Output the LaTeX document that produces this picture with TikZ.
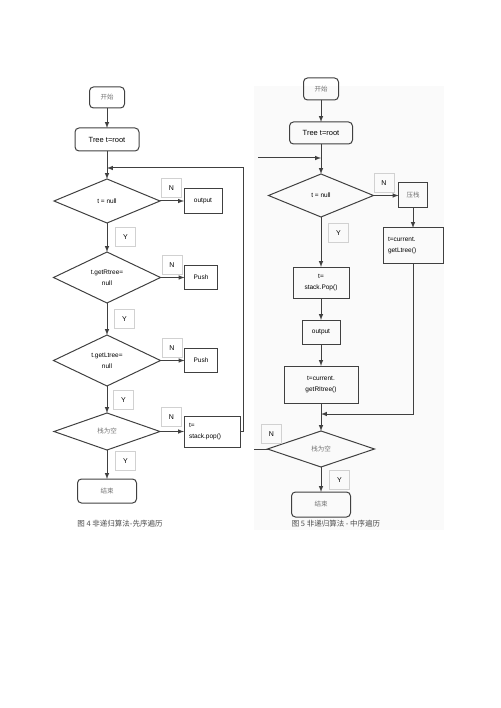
\documentclass[tikz,border=0pt]{standalone}
\usepackage{fontspec}
\setmainfont{Liberation Sans}
\newfontfamily\cjk{Noto Sans CJK SC}
\usetikzlibrary{positioning,shapes.geometric}
\definecolor{linegray}{gray}{0.25}
\tikzstyle{term} = [draw, rectangle, rounded corners=4pt, inner sep=2pt, outer sep=0pt]
\tikzstyle{block} = [draw, rectangle, inner sep=2pt, outer sep=0pt]
\tikzstyle{test} = [draw, diamond, aspect=2, inner sep=0pt, outer sep=0pt, align=center]
\tikzstyle{yn} = [draw=black!18, line width=0.7pt, rectangle, minimum width=20pt, minimum height=19pt, inner sep=0pt, font=\fontsize{7}{8}\selectfont]
\tikzstyle{cn} = [text=black!55, font=\cjk\fontsize{6.5}{8}\selectfont]

\begin{document}
\begin{tikzpicture}[x=1pt, y=-1pt, >=latex, line width=1pt, color=linegray, text=black,
		font=\fontsize{6.5}{8}\selectfont]
		\useasboundingbox (0,0) rectangle (500,708);
		\fill[black!2] (254,86) rectangle (444,530);

		% preorder: main column
		\node[term, cn, minimum width=35pt, minimum height=21pt] (startl) at (107,97.5) {开始};
		\node[term, minimum width=64pt, minimum height=23pt, below=20pt of startl, font=\fontsize{7.5}{9}\selectfont] (treel) {Tree t=root};
		\node[test, minimum width=106pt, minimum height=44pt, below=28pt of treel] (nulll) {t = null};
		\node[test, minimum width=107pt, minimum height=51pt, below=29pt of nulll] (rtreel) {t.getRtree=\\[3pt]null};
		\node[test, minimum width=107pt, minimum height=51pt, below=32pt of rtreel] (ltreel) {t.getLtree=\\[3pt]null};
		\node[test, cn, minimum width=106pt, minimum height=37pt, below=27pt of ltreel] (emptyl) {栈为空};
		\node[term, cn, minimum width=59pt, minimum height=24pt, below=29pt of emptyl] (endl) {结束};

		% preorder: side boxes
		\node[block, minimum width=38pt, minimum height=25pt, right=24pt of nulll] (outl) {output};
		\node[block, minimum width=33pt, minimum height=24pt, right=24pt of rtreel] (pushl1) {Push};
		\node[block, minimum width=33pt, minimum height=24pt, right=24pt of ltreel] (pushl2) {Push};
		\node[block, text width=46pt, align=left, inner sep=5pt, minimum height=31pt, right=24pt of emptyl] (popl) {t=\\[3pt]stack.pop()};

		% preorder: N / Y
		\node[yn, above right=3pt and 1pt of nulll.east] (nl1) {N};
		\node[yn, above right=3pt and 1pt of rtreel.east] (nl2) {N};
		\node[yn, above right=3pt and 1pt of ltreel.east] (nl3) {N};
		\node[yn, above right=5pt and 1pt of emptyl.east] (nl4) {N};
		\node[yn, below right=4pt and 8pt of nulll.south] (yl1) {Y};
		\node[yn, below right=6pt and 7pt of rtreel.south] (yl2) {Y};
		\node[yn, below right=4pt and 6pt of ltreel.south] (yl3) {Y};
		\node[yn, below right=1pt and 8pt of emptyl.south] (yl4) {Y};

		% preorder: joins
		\draw[->] (startl) -- (treel);
		\draw[->] (treel) -- (nulll);
		\draw[->] (nulll) -- (rtreel);
		\draw[->] (rtreel) -- (ltreel);
		\draw[->] (ltreel) -- (emptyl);
		\draw[->] (emptyl) -- (endl);
		\draw[->] (nulll) -- (outl);
		\draw[->] (rtreel) -- (pushl1);
		\draw[->] (ltreel) -- (pushl2);
		\draw[->] (emptyl) -- (popl);
		\node[coordinate, above=11pt of nulll.north] (loopl) {};
		\node[coordinate, right=3pt of popl.east] (popl0) {};
		\draw[->] (popl.east) -- (popl0) |- (loopl);

		% inorder: main column
		\node[term, cn, minimum width=35pt, minimum height=22pt] (startr) at (321,89) {开始};
		\node[term, minimum width=63pt, minimum height=22pt, below=22pt of startr, font=\fontsize{7.5}{9}\selectfont] (treer) {Tree t=root};
		\node[test, minimum width=105pt, minimum height=43pt, below=30pt of treer] (nullr) {t = null};
		\node[block, align=center, minimum width=56pt, minimum height=31pt, below=50pt of nullr] (popr) {t=\\[3pt]stack.Pop()};
		\node[block, minimum width=38pt, minimum height=24pt, below=22pt of popr] (outr) {output};
		\node[block, align=center, minimum width=74pt, minimum height=37pt, below=22pt of outr] (rtreer) {t=current.\\[3pt]getRItree()};
		\node[test, cn, minimum width=107pt, minimum height=36pt, below=28pt of rtreer] (emptyr) {栈为空};
		\node[term, cn, minimum width=59pt, minimum height=25pt, below=25pt of emptyr] (endr) {结束};

		% inorder: side column
		\node[block, cn, minimum width=29pt, minimum height=25pt, right=25pt of nullr] (pushr) {压栈};
		\node[block, text width=50pt, align=left, inner sep=5pt, minimum height=35pt, below=20pt of pushr] (ltreer) {t=current.\\[3pt]getLtree()};

		% inorder: N / Y
		\node[yn, above right=3pt and 0pt of nullr.east] (nr1) {N};
		\node[yn, above=5pt of emptyr.west, xshift=4pt] (nr2) {N};
		\node[yn, below right=6pt and 7pt of nullr.south] (yr1) {Y};
		\node[yn, below right=3pt and 8pt of emptyr.south] (yr2) {Y};

		% inorder: joins
		\draw[->] (startr) -- (treer);
		\draw[->] (treer) -- (nullr);
		\draw[->] (nullr) -- (popr);
		\draw[->] (popr) -- (outr);
		\draw[->] (outr) -- (rtreer);
		\draw[->] (rtreer) -- (emptyr);
		\draw[->] (emptyr) -- (endr);
		\draw[->] (nullr) -- (pushr);
		\draw[->] (pushr) -- (ltreer);
		\node[coordinate, above=17pt of emptyr.north] (joinr) {};
		\draw[->] (ltreer.south) |- (joinr);
		\node[coordinate, above=16pt of nullr.north] (entryr) {};
		\node[coordinate, left=63pt of entryr] (entryr0) {};
		\draw[->] (entryr0) -- (entryr);
		\node[coordinate, left=14pt of emptyr.west] (exitr) {};
		\draw (emptyr.west) -- (exitr);

		% captions
		\node[font=\cjk\fontsize{7.5}{9}\selectfont, text=black!70] (capl) at (120,524) {图 4 非递归算法-先序遍历};
		\node[font=\cjk\fontsize{7.5}{9}\selectfont, text=black!70] (capr) at (336,524) {图 5 非递归算法 - 中序遍历};
	\end{tikzpicture}
\end{document}
